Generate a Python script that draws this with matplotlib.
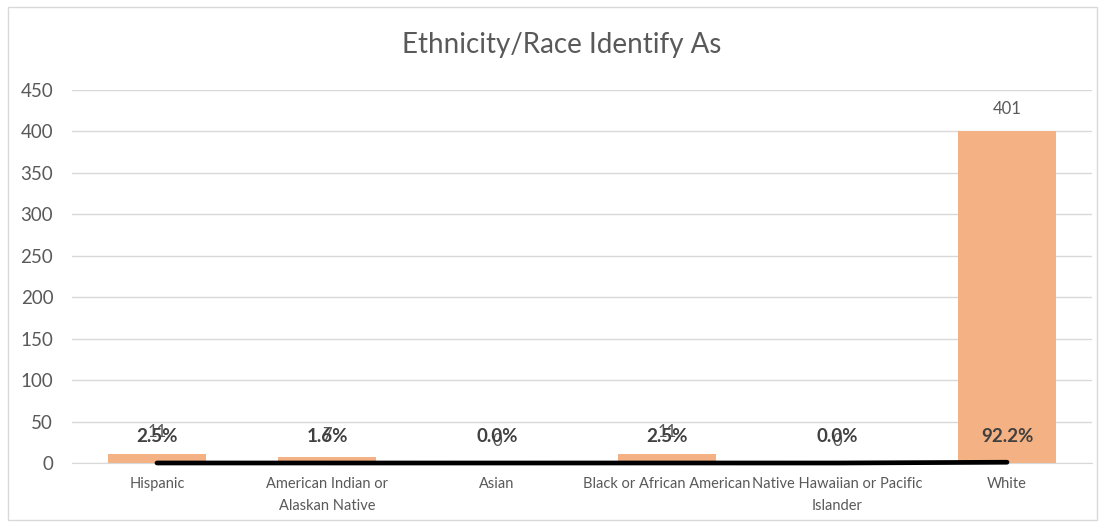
import matplotlib
matplotlib.use("Agg")
import matplotlib.pyplot as plt
from matplotlib.patches import Rectangle

plt.rcParams['font.family'] = ['Lato', 'DejaVu Sans']

categories = ["Hispanic", "American Indian or\nAlaskan Native", "Asian",
              "Black or African American", "Native Hawaiian or Pacific\nIslander", "White"]
counts = [11, 7, 0, 11, 0, 401]
percents = [2.5, 1.6, 0.0, 2.5, 0.0, 92.2]

text_color = "#595959"
grid_color = "#D9D9D9"
bar_color = "#F4B183"

fig = plt.figure(figsize=(11.05, 5.25), dpi=100)
ax = fig.add_axes([72 / 1105, 1 - 463 / 525, 1020 / 1105, 373 / 525])

x = list(range(len(categories)))
ax.bar(x, counts, width=0.58, color=bar_color, zorder=2)
# percent series sits on the same axis, so it hugs zero
frac = [p / 100 for p in percents]
ax.plot(x, frac, color="black", linewidth=3.4, solid_capstyle="round", zorder=3, clip_on=False)

for xi, c in zip(x, counts):
    ax.annotate(str(c), (xi, c), xytext=(0, 22), textcoords="offset pixels",
                ha="center", va="center", fontsize=12, color=text_color, zorder=4)
for xi, f, p in zip(x, frac, percents):
    ax.annotate(f"{p:.1f}%", (xi, f), xytext=(0, 26), textcoords="offset pixels",
                ha="center", va="center", fontsize=13.5, fontweight="bold",
                color="#404040", zorder=5)

ax.set_xlim(-0.5, len(categories) - 0.5)
ax.set_ylim(0, 450)
ax.set_yticks(range(0, 451, 50))
ax.set_xticks(x)
ax.set_xticklabels(categories, fontsize=10.5, color=text_color, linespacing=1.75)
ax.tick_params(axis="y", length=0, pad=13.5, labelsize=13.5, labelcolor=text_color)
ax.tick_params(axis="x", length=0, pad=10)
ax.grid(axis="y", color=grid_color, linewidth=1, zorder=0)
for s in ["top", "right", "left"]:
    ax.spines[s].set_visible(False)
ax.spines["bottom"].set_color(grid_color)

fig.text(562 / 1105, 1 - 45 / 525, "Ethnicity/Race Identify As", ha="center", va="center",
         fontsize=20, color=text_color)

fig.patches.append(Rectangle((8 / 1105, 5 / 525), 1089 / 1105, 513 / 525, transform=fig.transFigure,
                             fill=False, edgecolor=grid_color, linewidth=1))

fig.savefig("out.png", dpi=100)
